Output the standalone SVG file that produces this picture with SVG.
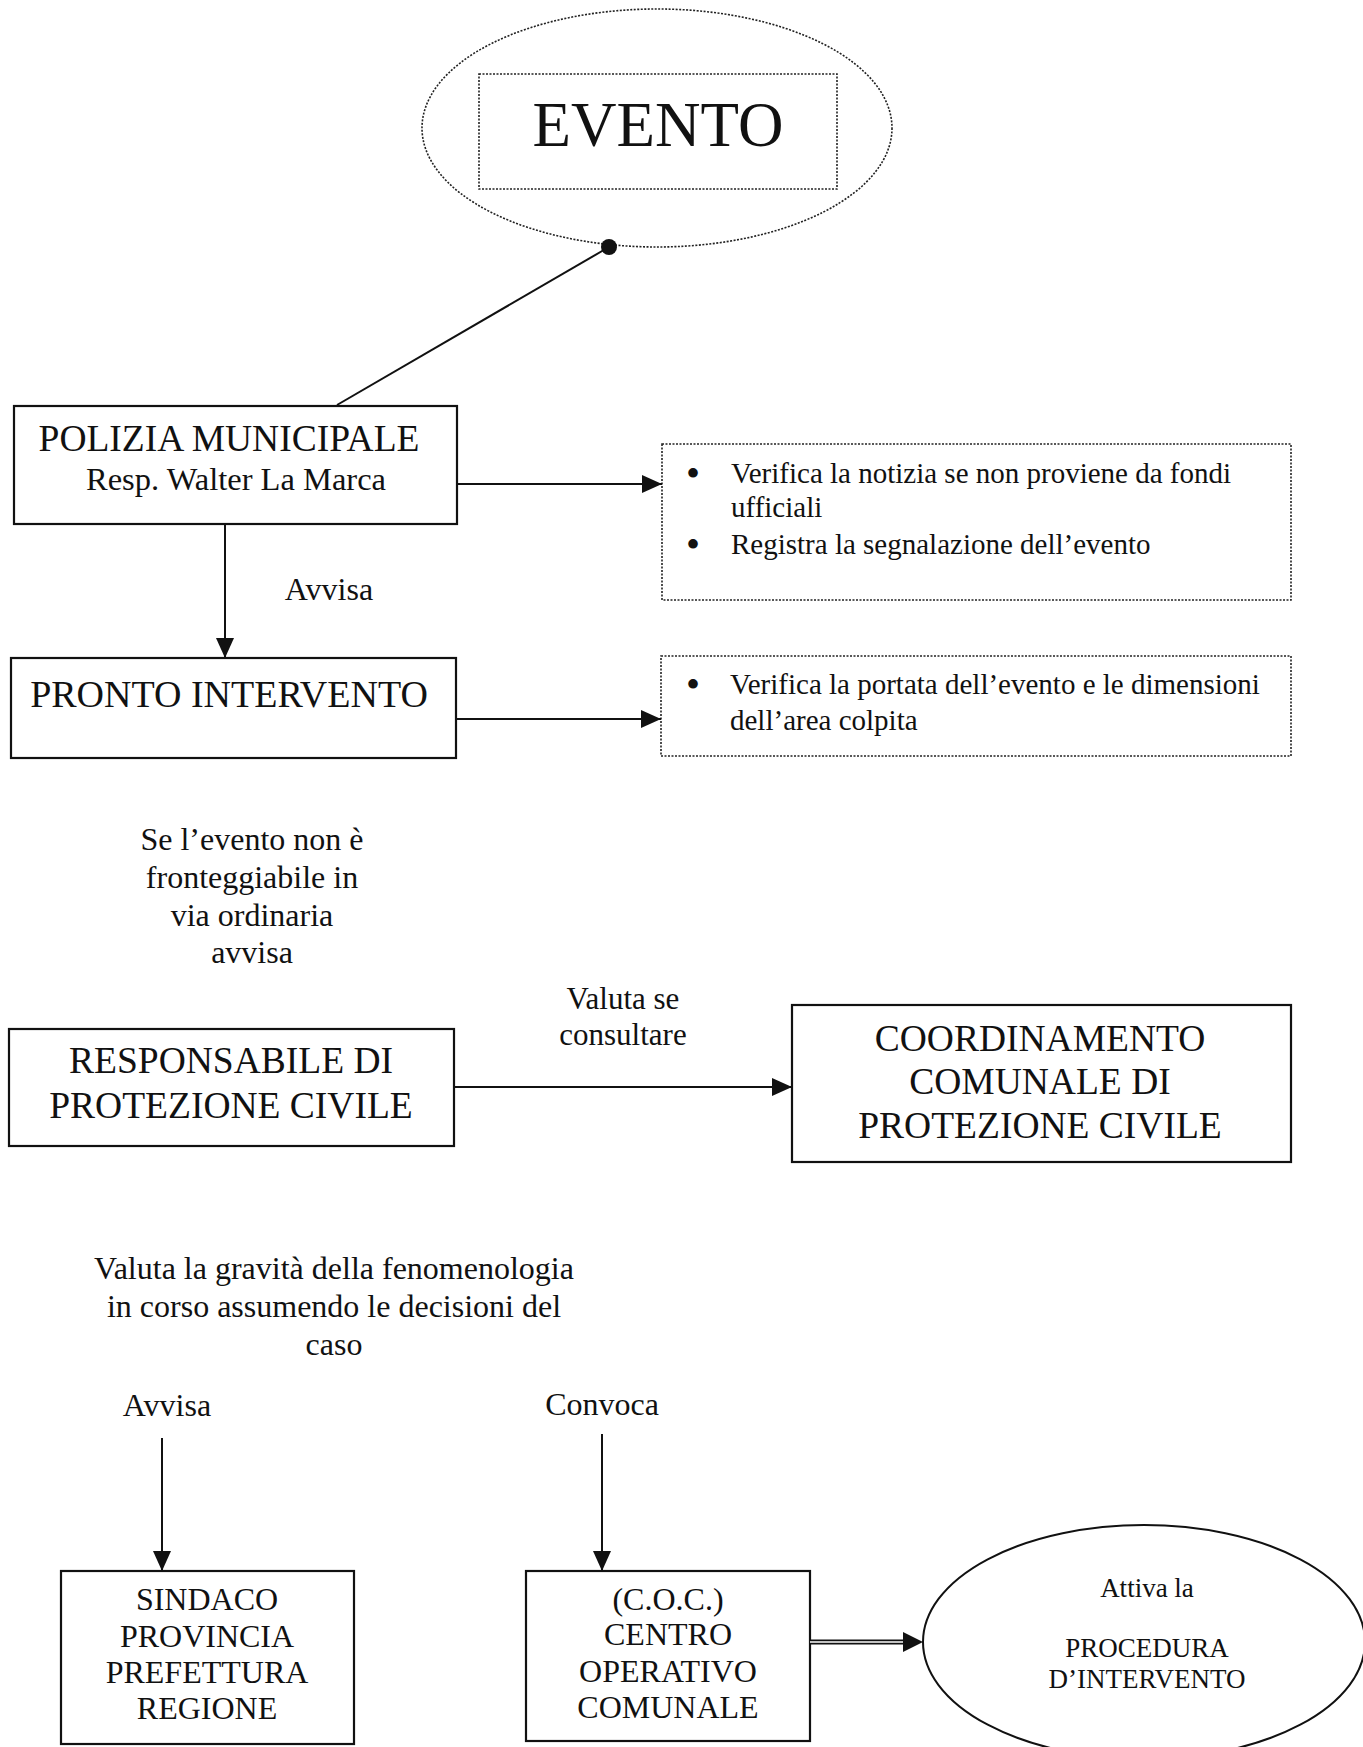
<svg xmlns="http://www.w3.org/2000/svg" width="1363" height="1747" viewBox="0 0 1363 1747">
<style>
text{font-family:"Liberation Serif","Times New Roman",serif;fill:#111}
.box{fill:none;stroke:#111;stroke-width:2.2}
.dot{fill:none;stroke:#222;stroke-width:1.6;stroke-dasharray:2 1.5}
.ln{stroke:#111;stroke-width:2;fill:none}
.big{font-size:37.5px}
.mid{font-size:32px}
.sm{font-size:29px}
.bul{font-size:40px}
.xs{font-size:27px}
.c{text-anchor:middle}
</style>
<defs>
<marker id="ahb" viewBox="0 0 20 20" refX="20" refY="10" markerWidth="20" markerHeight="20" markerUnits="userSpaceOnUse" orient="auto">
<path d="M0,1 L20,10 L0,19 Z" fill="#111"/>
</marker>
</defs>
<rect width="1363" height="1747" fill="#fff"/>

<g id="evento">
<ellipse cx="657" cy="128" rx="235" ry="119" class="dot"/>
<rect x="479" y="74" width="358" height="115" class="dot"/>
<text x="658" y="146" class="c" style="font-size:63px">EVENTO</text>
</g>

<g id="polizia">
<rect x="14" y="406" width="443" height="118" class="box"/>
<text x="229" y="451" class="c big">POLIZIA MUNICIPALE</text>
<text x="236" y="490" class="c" style="font-size:32.5px">Resp. Walter La Marca</text>
</g>

<g id="verifica1">
<rect x="662" y="444" width="629" height="156" class="dot"/>
<text x="686" y="487" class="bul">•</text>
<text x="731" y="483" class="sm">Verifica la notizia se non proviene da fondi</text>
<text x="731" y="517" class="sm">ufficiali</text>
<text x="686" y="558" class="bul">•</text>
<text x="731" y="554" class="sm">Registra la segnalazione dell’evento</text>
</g>

<g id="pronto">
<rect x="11" y="658" width="445" height="100" class="box"/>
<text x="229" y="707" class="c" style="font-size:38px">PRONTO INTERVENTO</text>
</g>

<g id="verifica2">
<rect x="661" y="656" width="630" height="100" class="dot"/>
<text x="686" y="698" class="bul">•</text>
<text x="730" y="694" class="sm">Verifica la portata dell’evento e le dimensioni</text>
<text x="730" y="730" class="sm">dell’area colpita</text>
</g>

<g id="nota1">
<text class="c mid"><tspan x="252" y="850">Se l’evento non è</tspan><tspan x="252" y="888">fronteggiabile in</tspan><tspan x="252" y="926">via ordinaria</tspan><tspan x="252" y="963">avvisa</tspan></text>
</g>

<g id="responsabile">
<rect x="9" y="1029" width="445" height="117" class="box"/>
<text x="231" y="1073" class="c big">RESPONSABILE DI</text>
<text x="231" y="1118" class="c big">PROTEZIONE CIVILE</text>
</g>

<g id="coordinamento">
<rect x="792" y="1005" width="499" height="157" class="box"/>
<text x="1040" y="1051" class="c big">COORDINAMENTO</text>
<text x="1040" y="1094" class="c big">COMUNALE DI</text>
<text x="1040" y="1138" class="c big">PROTEZIONE CIVILE</text>
</g>

<g id="nota2">
<text class="c mid"><tspan x="334" y="1279">Valuta la gravità della fenomenologia</tspan><tspan x="334" y="1317">in corso assumendo le decisioni del</tspan><tspan x="334" y="1355">caso</tspan></text>
</g>

<g id="sindaco">
<rect x="61" y="1571" width="293" height="173" class="box"/>
<text x="207" y="1610" class="c mid">SINDACO</text>
<text x="207" y="1647" class="c mid">PROVINCIA</text>
<text x="207" y="1683" class="c mid">PREFETTURA</text>
<text x="207" y="1719" class="c mid">REGIONE</text>
</g>

<g id="coc">
<rect x="526" y="1571" width="284" height="170" class="box"/>
<text x="668" y="1610" class="c mid">(C.O.C.)</text>
<text x="668" y="1645" class="c mid">CENTRO</text>
<text x="668" y="1682" class="c mid">OPERATIVO</text>
<text x="668" y="1718" class="c mid">COMUNALE</text>
</g>

<g id="procedura">
<ellipse cx="1144" cy="1642" rx="221" ry="117" fill="none" stroke="#111" stroke-width="2"/>
<text x="1147" y="1597" class="c xs">Attiva la</text>
<text x="1147" y="1657" class="c xs">PROCEDURA</text>
<text x="1147" y="1688" class="c xs">D’INTERVENTO</text>
</g>

<g id="connectors">
<line x1="337" y1="405" x2="609" y2="247" class="ln"/>
<circle cx="609" cy="247" r="8" fill="#111"/>
<line x1="457" y1="484" x2="662" y2="484" class="ln" marker-end="url(#ahb)"/>
<line x1="225" y1="524" x2="225" y2="658" class="ln" marker-end="url(#ahb)"/>
<text x="329" y="600" class="mid c">Avvisa</text>
<line x1="457" y1="719" x2="661" y2="719" class="ln" marker-end="url(#ahb)"/>
<line x1="454" y1="1087" x2="792" y2="1087" class="ln" marker-end="url(#ahb)"/>
<text class="c" style="font-size:31px"><tspan x="623" y="1009">Valuta se</tspan><tspan x="623" y="1045">consultare</tspan></text>
<text x="167" y="1416" class="mid c">Avvisa</text>
<line x1="162" y1="1438" x2="162" y2="1571" class="ln" marker-end="url(#ahb)"/>
<text x="602" y="1415" class="mid c">Convoca</text>
<line x1="602" y1="1434" x2="602" y2="1571" class="ln" marker-end="url(#ahb)"/>
<line x1="810" y1="1642" x2="904" y2="1642" stroke="#111" stroke-width="5"/>
<line x1="810" y1="1642" x2="904" y2="1642" stroke="#fff" stroke-width="1.5"/>
<path d="M903,1632 L923,1642 L903,1652 Z" fill="#111"/>
</g>
</svg>
